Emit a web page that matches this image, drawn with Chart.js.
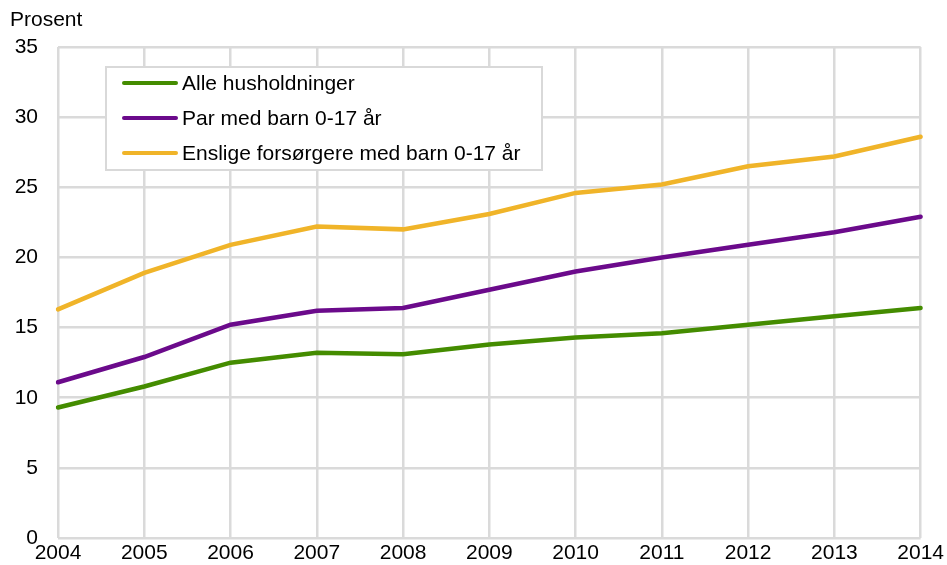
<!DOCTYPE html>
<html>
<head>
<meta charset="utf-8">
<script src="https://cdn.jsdelivr.net/npm/chart.js@4"></script>
<style>
  html, body { margin: 0; padding: 0; background: #fff; }
  #wrap { width: 947px; height: 565px; }
</style>
</head>
<body>
<div id="wrap"><canvas id="chart" width="947" height="565"></canvas></div>
<script>
const years = ['2004', '2005', '2006', '2007', '2008', '2009', '2010', '2011', '2012', '2013', '2014'];
const alleHusholdninger = [9.3, 10.8, 12.5, 13.2, 13.1, 13.8, 14.3, 14.6, 15.2, 15.8, 16.4];
const parMedBarn = [11.1, 12.9, 15.2, 16.2, 16.4, 17.7, 19.0, 20.0, 20.9, 21.8, 22.9];
const ensligeForsorgere = [16.3, 18.9, 20.9, 22.2, 22.0, 23.1, 24.6, 25.2, 26.5, 27.2, 28.6];

const FONT = '"Liberation Sans", Arial, sans-serif';

// legend box drawn inside the plot, plus the "Prosent" caption
const boxLegend = {
    id: 'boxLegend',
    afterDraw(chart) {
        const ctx = chart.ctx;
        ctx.save();
        ctx.font = '21px ' + FONT;
        ctx.fillStyle = '#000';
        ctx.textBaseline = 'middle';
        ctx.textAlign = 'left';
        ctx.fillText('Prosent', 10, 20);

        ctx.fillStyle = '#fff';
        ctx.fillRect(106, 67, 436, 103);
        ctx.strokeStyle = '#d9d9d9';
        ctx.lineWidth = 2;
        ctx.strokeRect(106, 67, 436, 103);

        chart.data.datasets.forEach((ds, i) => {
            const y = 83 + i * 35;
            ctx.strokeStyle = ds.borderColor;
            ctx.lineWidth = 4;
            ctx.lineCap = 'round';
            ctx.beginPath();
            ctx.moveTo(124, y);
            ctx.lineTo(176, y);
            ctx.stroke();
            ctx.fillStyle = '#000';
            ctx.fillText(ds.label, 182, y + 1);
        });
        ctx.restore();
    }
};

const ctx = document.getElementById('chart').getContext('2d');
new Chart(ctx, {
    type: 'line',
    data: {
        labels: years,
        datasets: [{
            label: 'Alle husholdninger',
            data: alleHusholdninger,
            borderColor: '#448c00',
            borderWidth: 4.5
        }, {
            label: 'Par med barn 0-17 år',
            data: parMedBarn,
            borderColor: '#6b0a8b',
            borderWidth: 4.5
        }, {
            label: 'Enslige forsørgere med barn 0-17 år',
            data: ensligeForsorgere,
            borderColor: '#f0b429',
            borderWidth: 4.5
        }]
    },
    options: {
        responsive: false,
        animation: false,
        elements: { point: { radius: 0 }, line: { tension: 0, borderCapStyle: 'round' } },
        layout: { padding: { top: 47, right: 25, left: 0, bottom: 0 } },
        plugins: { legend: { display: false }, tooltip: { enabled: false } },
        scales: {
            x: {
                grid: { color: '#dadada', lineWidth: 2.5, drawTicks: false },
                border: { display: false },
                ticks: { color: '#000', font: { family: FONT, size: 21 }, padding: 3, maxRotation: 0, autoSkip: false },
                afterFit(scale) { scale.height = 27; }
            },
            y: {
                min: 0,
                max: 35,
                grid: { color: '#dadada', lineWidth: 2.5, drawTicks: true, tickLength: 17, tickColor: 'rgba(0,0,0,0)' },
                border: { display: false },
                ticks: { stepSize: 5, color: '#000', font: { family: FONT, size: 21 }, padding: 3 },
                afterFit(scale) { scale.width = 58; }
            }
        }
    },
    plugins: [boxLegend]
});
</script>
</body>
</html>
